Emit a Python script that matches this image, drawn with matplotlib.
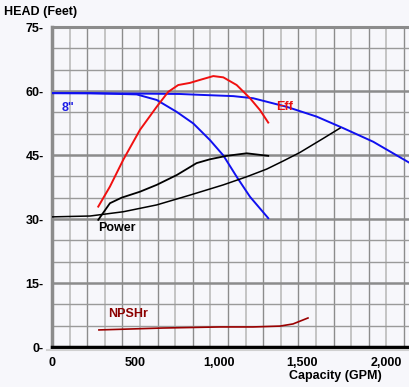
import matplotlib
matplotlib.use("Agg")
import matplotlib.pyplot as plt
import numpy as np

plt.rcParams['font.family'] = ['Liberation Sans', 'DejaVu Sans']
plt.rcParams['font.weight'] = 'bold'

# ---- data ----
head_8_q = [0, 500, 766, 886, 1086, 1205, 1405, 1585, 1744, 1924, 2144]
head_8_h = [59.5, 59.4, 59.3, 59.1, 58.8, 58.3, 56.3, 54.0, 51.3, 48.1, 43.1]

head_small_q = [0, 228, 507, 627, 747, 846, 946, 1026, 1106, 1186, 1295]
head_small_h = [59.5, 59.5, 59.2, 57.9, 55.1, 52.4, 48.5, 44.9, 39.9, 35.2, 30.2]

eff_q = [277, 347, 427, 527, 627, 696, 756, 826, 886, 966, 1026, 1106, 1186, 1246, 1295]
eff_h = [32.9, 37.6, 43.9, 50.9, 56.3, 59.8, 61.4, 61.9, 62.6, 63.5, 63.2, 61.4, 58.3, 55.5, 52.6]

power_q = [277, 347, 417, 527, 627, 747, 866, 946, 1046, 1166, 1295]
power_h = [29.8, 33.7, 35.0, 36.4, 38.0, 40.3, 43.1, 44.0, 44.8, 45.4, 44.8]

system_q = [0, 228, 427, 627, 826, 1026, 1166, 1286, 1385, 1485, 1625, 1725]
system_h = [30.5, 30.7, 31.7, 33.3, 35.6, 38.0, 39.9, 41.7, 43.6, 45.6, 48.9, 51.3]

npshr_q = [281, 665, 1006, 1204, 1365, 1443, 1533]
npshr_h = [4.0, 4.45, 4.7, 4.7, 4.9, 5.4, 6.8]

x_ticks = [0, 500, 1000, 1500, 2000]
x_tick_labels = ["0", "500", "1,000", "1,500", "2,000"]
y_ticks = [0, 15, 30, 45, 60, 75]
y_tick_labels = ["0-", "15-", "30-", "45-", "60-", "75-"]

BG = "#F7F7FB"
W, H = 410, 387
fig = plt.figure(figsize=(W / 100, H / 100), dpi=100, facecolor=BG)
ax = fig.add_axes([52 / W, 40 / H, 358 / W, 320 / H], facecolor=BG)

xmax = 2144
ax.set_xlim(0, xmax)
ax.set_ylim(0, 75)

# grid
for i, gx in enumerate(np.arange(105.4, xmax, 105.4)):
    ax.axvline(gx, color="#8c8c8c" if i % 2 else "#c4c4c4", lw=1.0 if i % 2 else 1.4, zorder=1)
for gy in range(5, 75, 5):
    if gy % 15 == 0:
        ax.axhline(gy, color="#8c8c8c", lw=1.8, zorder=1)
    else:
        ax.axhline(gy, color="#9a9a9a", lw=1.0, zorder=1)

# curves
ax.plot(head_8_q, head_8_h, color="#1010F0", lw=1.4, zorder=3)
ax.plot(head_small_q, head_small_h, color="#1010F0", lw=1.4, zorder=3)
ax.plot(eff_q, eff_h, color="#F01010", lw=1.4, zorder=3)
ax.plot(power_q, power_h, color="black", lw=1.3, zorder=3)
ax.plot(system_q, system_h, color="black", lw=1.1, zorder=3)
ax.plot(npshr_q, npshr_h, color="#9A0000", lw=1.2, zorder=3)

# curve labels
ax.text(96, 56.0, '8"', color="#1E1EE6", fontsize=9, fontweight="bold", ha="center", va="center", zorder=4)
ax.text(1395, 56.2, "Eff", color="#E81010", fontsize=9, fontweight="bold", ha="center", va="center", zorder=4)
ax.text(389, 27.9, "Power", color="black", fontsize=9, fontweight="bold", ha="center", va="center", zorder=4)
ax.text(455, 7.7, "NPSHr", color="#8B0000", fontsize=9, fontweight="bold", ha="center", va="center", zorder=4)

# spines
ax.spines["right"].set_visible(False)
ax.spines["top"].set_color("#8c8c8c")
ax.spines["top"].set_linewidth(2.2)
ax.spines["left"].set_color("#8c8c8c")
ax.spines["left"].set_linewidth(2.5)
ax.spines["bottom"].set_color("black")
ax.spines["bottom"].set_linewidth(2.5)
ax.spines["bottom"].set_zorder(5)

# light shadow under bottom axis
fig.add_artist(plt.Line2D([47 / W, 1], [(H - 350) / H, (H - 350) / H], color="#d0d0d0", lw=1.5))

ax.set_xticks(x_ticks)
ax.set_xticklabels(x_tick_labels, fontsize=9, fontweight="bold")
ax.set_yticks(y_ticks)
ax.set_yticklabels(y_tick_labels, fontsize=9, fontweight="bold")
ax.tick_params(axis="both", length=0)
ax.tick_params(axis="x", pad=7)
ax.tick_params(axis="y", pad=6)

fig.text(4 / W, 1 - 12 / H, "HEAD (Feet)", fontsize=9, fontweight="bold", ha="left", va="center")
fig.text(335 / W, 1 - 376 / H, "Capacity (GPM)", fontsize=9, fontweight="bold", ha="center", va="center")

fig.savefig("out.png", dpi=100, facecolor=BG)
